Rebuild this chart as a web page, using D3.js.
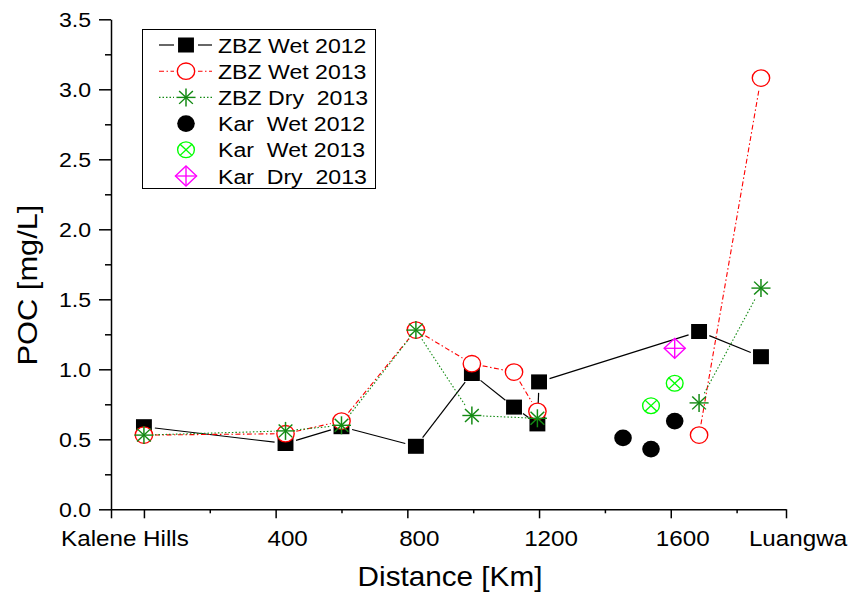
<!DOCTYPE html>
<html>
<head>
<meta charset="utf-8">
<script src="https://cdn.jsdelivr.net/npm/d3@7"></script>
<style>
  html, body { margin: 0; padding: 0; background: #fff; }
  svg { display: block; font-family: "Liberation Sans", Arial, sans-serif; }
</style>
</head>
<body>
<svg id="chart" width="857" height="599"></svg>
<script>
// Distance along the river (km) and particulate organic carbon (mg/L).
// null marks a station with no sample, which breaks the connecting line.
const zbzWet2012Km = [0, 430, 600, 826, 996, 1124, 1195, 1200, 1686, 1874];
const zbzWet2012   = [0.59, 0.47, 0.59, 0.45, 0.97, 0.73, 0.61, 0.91, 1.27, 1.09];

const zbzWet2013Km = [0, 430, 600, 826, 996, 1124, 1195, 1455, 1686, 1874];
const zbzWet2013   = [0.53, 0.54, 0.63, 1.28, 1.04, 0.98, 0.70, null, 0.53, 3.08];

const zbzDry2013Km = [0, 430, 600, 826, 996, 1195, 1455, 1686, 1874];
const zbzDry2013   = [0.53, 0.56, 0.60, 1.28, 0.67, 0.65, null, 0.76, 1.58];

const karWet2012Km = [1455, 1540, 1612];
const karWet2012   = [0.51, 0.43, 0.63];

const karWet2013Km = [1540, 1612];
const karWet2013   = [0.74, 0.90];

const karDry2013Km = [1612];
const karDry2013   = [1.15];

const xTickValues = [0, 400, 800, 1200, 1600, 1950];
const xTickLabels = ["Kalene Hills", "400", "800", "1200", "1600", "Luangwa"];
const xMinorTicks = [200, 600, 1000, 1400, 1800];
const yTickValues = [0, 0.5, 1.0, 1.5, 2.0, 2.5, 3.0, 3.5];
const yTickLabels = ["0.0", "0.5", "1.0", "1.5", "2.0", "2.5", "3.0", "3.5"];
const yMinorTicks = [0.25, 0.75, 1.25, 1.75, 2.25, 2.75, 3.25];

const legendLabels = ["ZBZ Wet 2012", "ZBZ Wet 2013", "ZBZ Dry  2013",
                      "Kar  Wet 2012", "Kar  Wet 2013", "Kar  Dry  2013"];

const svg = d3.select("#chart");
const SX = 1.1;   // horizontal widening used for all text
const MX = 1.06;  // horizontal widening used for symbols

const x = d3.scaleLinear().domain([-100, 1950]).range([111, 786]);
const y = d3.scaleLinear().domain([0, 3.5]).range([509.3, 19.3]);

// ---- symbols ----
function symbol(g, type, cx, cy) {
  const s = g.append("g").attr("transform", `translate(${cx},${cy}) scale(${MX},1)`);
  if (type === "square") {
    s.append("rect").attr("x", -7.5).attr("y", -7.5).attr("width", 15).attr("height", 15)
      .attr("fill", "#000");
  } else if (type === "openCircle") {
    s.append("circle").attr("r", 8.2).attr("fill", "#fff")
      .attr("stroke", "#ff0000").attr("stroke-width", 1.3);
  } else if (type === "asterisk") {
    const r = 9;
    [[0, -r, 0, r], [-r, 0, r, 0], [-r * 0.72, -r * 0.72, r * 0.72, r * 0.72], [-r * 0.72, r * 0.72, r * 0.72, -r * 0.72]]
      .forEach(l => s.append("line").attr("x1", l[0]).attr("y1", l[1]).attr("x2", l[2]).attr("y2", l[3])
        .attr("stroke", "#138a13").attr("stroke-width", 1.4));
  } else if (type === "dot") {
    s.append("circle").attr("r", 8.3).attr("fill", "#000");
  } else if (type === "crossCircle") {
    const r = 7.9;
    s.append("circle").attr("r", r).attr("fill", "none").attr("stroke", "#00ff00").attr("stroke-width", 1.3);
    const k = r * 0.707;
    [[-k, -k, k, k], [-k, k, k, -k]].forEach(l => s.append("line")
      .attr("x1", l[0]).attr("y1", l[1]).attr("x2", l[2]).attr("y2", l[3])
      .attr("stroke", "#00ff00").attr("stroke-width", 1.3));
  } else if (type === "diamondCross") {
    const r = 10;
    s.append("path").attr("d", `M0,${-r}L${r},0L0,${r}L${-r},0Z`).attr("fill", "none")
      .attr("stroke", "#ff00ff").attr("stroke-width", 1.3);
    [[0, -r, 0, r], [-r, 0, r, 0]].forEach(l => s.append("line")
      .attr("x1", l[0]).attr("y1", l[1]).attr("x2", l[2]).attr("y2", l[3])
      .attr("stroke", "#ff00ff").attr("stroke-width", 1.3));
  }
}

// connecting line with a small gap around each symbol; null points break it
function gappedLine(g, pts, style, gap) {
  for (let i = 0; i < pts.length - 1; i++) {
    if (!pts[i] || !pts[i + 1]) continue;
    const [x0, y0] = pts[i], [x1, y1] = pts[i + 1];
    const dx = x1 - x0, dy = y1 - y0, len = Math.hypot(dx, dy);
    if (len <= 2 * gap + 1) continue;
    const ux = dx / len, uy = dy / len;
    g.append("line")
      .attr("x1", x0 + ux * gap).attr("y1", y0 + uy * gap)
      .attr("x2", x1 - ux * gap).attr("y2", y1 - uy * gap)
      .attr("stroke", style.color).attr("stroke-width", style.width)
      .attr("stroke-dasharray", style.dash || null);
  }
}

function stretchedText(g, str, tx, ty, size, anchor) {
  return g.append("text")
    .attr("transform", `translate(${tx},${ty}) scale(${SX},1)`)
    .attr("text-anchor", anchor)
    .attr("font-size", size)
    .style("white-space", "pre")
    .attr("fill", "#000")
    .text(str);
}

// ---- axes ----
const axes = svg.append("g");

axes.append("g")
  .attr("transform", `translate(${x.range()[0]},0)`)
  .call(d3.axisLeft(y).tickValues(yTickValues).tickSize(12).tickSizeOuter(0).tickFormat(""))
  .call(g => g.selectAll("line, path").attr("stroke", "#000").attr("stroke-width", 1.5));
axes.append("g")
  .attr("transform", `translate(${x.range()[0]},0)`)
  .call(d3.axisLeft(y).tickValues(yMinorTicks).tickSize(6).tickSizeOuter(0).tickFormat(""))
  .call(g => g.select("path").remove())
  .call(g => g.selectAll("line").attr("stroke", "#000").attr("stroke-width", 1.5));

axes.append("g")
  .attr("transform", `translate(0,${y(0)})`)
  .call(d3.axisBottom(x).tickValues([-100].concat(xTickValues)).tickSize(9).tickSizeOuter(0).tickFormat(""))
  .call(g => g.selectAll("line, path").attr("stroke", "#000").attr("stroke-width", 1.5));
axes.append("g")
  .attr("transform", `translate(0,${y(0)})`)
  .call(d3.axisBottom(x).tickValues(xMinorTicks).tickSize(4).tickSizeOuter(0).tickFormat(""))
  .call(g => g.select("path").remove())
  .call(g => g.selectAll("line").attr("stroke", "#000").attr("stroke-width", 1.5));

yTickValues.forEach((v, i) => stretchedText(axes, yTickLabels[i], 91, y(v) + 7.4, 21, "end"));
xTickValues.forEach((v, i) => stretchedText(axes, xTickLabels[i], x(v) + (i === 0 ? -19 : 12), 546, 22, "middle"));

stretchedText(axes, "Distance [Km]", 450, 586, 27, "middle");
axes.append("text")
  .attr("transform", `translate(37,285) rotate(-90) scale(1.1,1)`)
  .attr("text-anchor", "middle").attr("font-size", 28).attr("fill", "#000")
  .text("POC [mg/L]");

// ---- series ----
const series = [
  { km: zbzWet2012Km, v: zbzWet2012, sym: "square", line: { color: "#000", width: 1.2 } },
  { km: zbzWet2013Km, v: zbzWet2013, sym: "openCircle", line: { color: "#ff0000", width: 1.1, dash: "5,2.5,1.5,2.5" } },
  { km: zbzDry2013Km, v: zbzDry2013, sym: "asterisk", line: { color: "#138a13", width: 1.1, dash: "1.5,2" } },
  { km: karWet2012Km, v: karWet2012, sym: "dot" },
  { km: karWet2013Km, v: karWet2013, sym: "crossCircle" },
  { km: karDry2013Km, v: karDry2013, sym: "diamondCross" }
];

const plot = svg.append("g");
series.forEach(s => {
  if (!s.line) return;
  const pts = s.km.map((k, i) => s.v[i] == null ? null : [x(k), y(s.v[i])]);
  gappedLine(plot, pts, s.line, 11);
});
series.forEach(s => {
  s.km.forEach((k, i) => { if (s.v[i] != null) symbol(plot, s.sym, x(k), y(s.v[i])); });
});

// ---- legend ----
const legend = svg.append("g");
legend.append("rect").attr("x", 142.5).attr("y", 29.5).attr("width", 233).attr("height", 159)
  .attr("fill", "#fff").attr("stroke", "#000").attr("stroke-width", 1);
series.forEach((s, i) => {
  const cy = 45 + i * 26.2;
  if (s.line) {
    gappedLine(legend, [[159, cy], [186, cy], [212, cy]], s.line, 0);
    legend.append("rect").attr("x", 174).attr("y", cy - 10).attr("width", 24).attr("height", 20).attr("fill", "#fff");
  }
  symbol(legend, s.sym, 186, cy);
  stretchedText(legend, legendLabels[i], 218, cy + 7.5, 21, "start");
});
</script>
</body>
</html>
